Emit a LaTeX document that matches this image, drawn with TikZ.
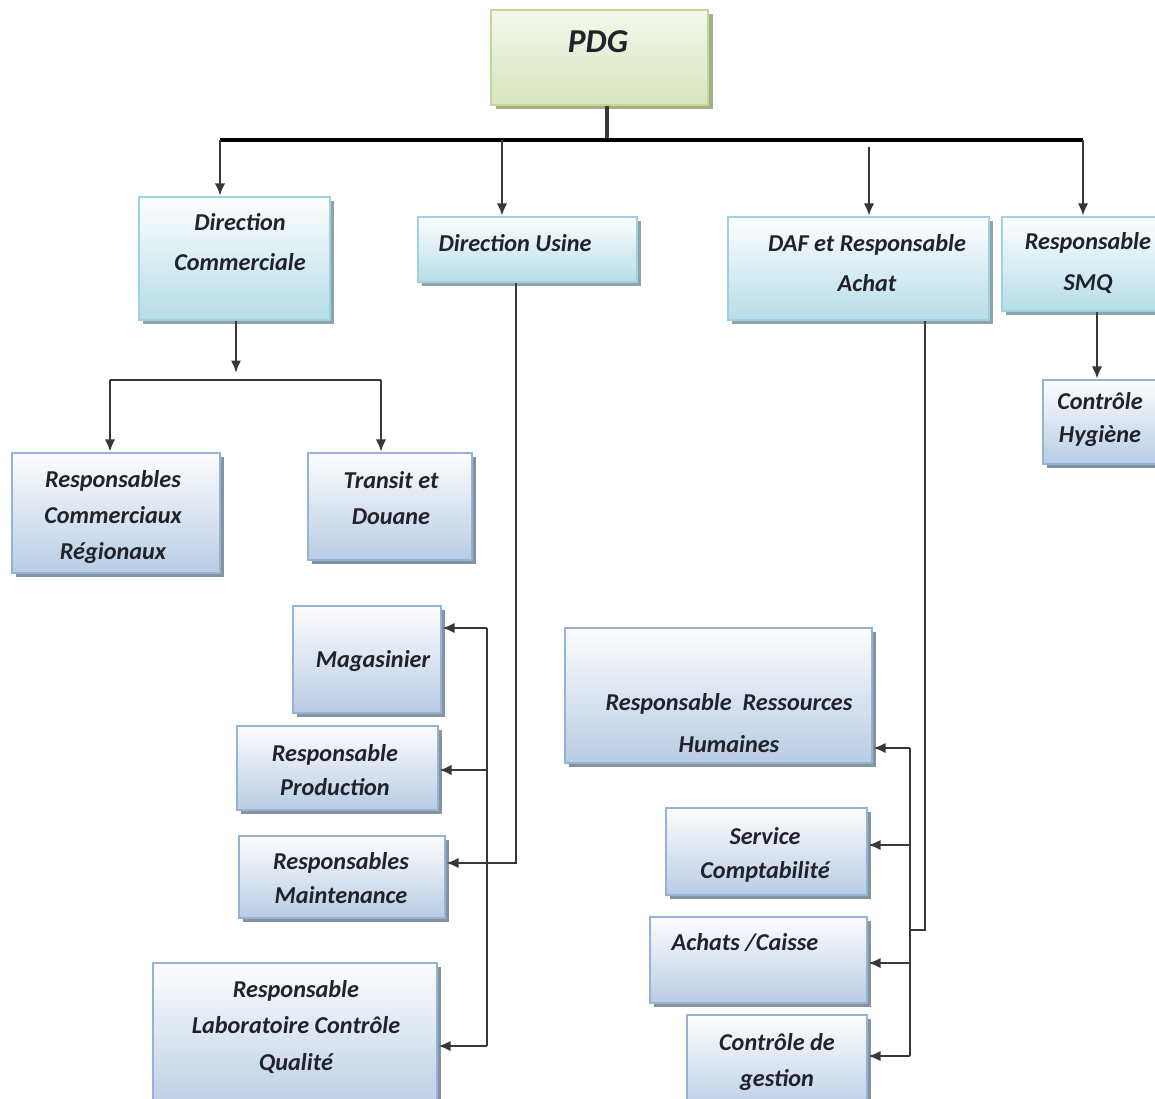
\documentclass[tikz,border=0pt]{standalone}
\usepackage{fontspec}
\setmainfont{Carlito}
\usetikzlibrary{arrows.meta,fit,shadows}
\definecolor{grtop}{HTML}{F4F8EC}
\definecolor{grbot}{HTML}{D7E4BD}
\definecolor{grbd}{HTML}{C3D69B}
\definecolor{grsh}{HTML}{A3B083}
\definecolor{cytop}{HTML}{FDFEFE}
\definecolor{cybot}{HTML}{B6DDE8}
\definecolor{cybd}{HTML}{9DD2E0}
\definecolor{cysh}{HTML}{8FA3A8}
\definecolor{bltop}{HTML}{FDFDFE}
\definecolor{blbot}{HTML}{B8CCE4}
\definecolor{blbd}{HTML}{95B3D7}
\definecolor{blsh}{HTML}{8592A0}
\definecolor{ink}{HTML}{22222C}
\definecolor{wirec}{HTML}{383838}
\tikzset{
  boxbase/.style={inner sep=0pt, line width=1.3pt},
  greenbox/.style={boxbase, draw=grbd, top color=grtop, bottom color=grbot,
    drop shadow={shadow xshift=0.09cm, shadow yshift=-0.09cm, fill=grsh, opacity=1}},
  cyanbox/.style={boxbase, draw=cybd, top color=cytop, bottom color=cybot,
    drop shadow={shadow xshift=0.08cm, shadow yshift=-0.08cm, fill=cysh, opacity=1}},
  bluebox/.style={boxbase, draw=blbd, top color=bltop, bottom color=blbot,
    drop shadow={shadow xshift=0.08cm, shadow yshift=-0.08cm, fill=blsh, opacity=1}},
  txt/.style={font=\fontsize{13.8}{20.5}\selectfont\bfseries\itshape, text=ink, align=center, inner sep=0pt},
  lsp/.style={font=\fontsize{13.8}{#1}\selectfont\bfseries\itshape},
  wire/.style={draw=wirec, line width=1.5pt},
  busline/.style={draw=black, line width=2.1pt},
  arr/.style={-{Latex[length=0.25cm,width=0.21cm]}}
}
\begin{document}
\begin{tikzpicture}[x=0.02cm,y=-0.02cm]
\clip (0,0) rectangle (1155,1098);
\fill[white] (0,0) rectangle (1155,1098);
% boxes
\node[greenbox, fit={(491,10)(708,105)}] (pdg) {};
\node[cyanbox, fit={(139,197)(330,320)}] (dc) {};
\node[cyanbox, fit={(418,217)(637,282)}] (du) {};
\node[cyanbox, fit={(728,217)(989,320)}] (daf) {};
\node[cyanbox, fit={(1002,217)(1175,311)}] (smq) {};
\node[bluebox, fit={(1043,380)(1175,464)}] (hyg) {};
\node[bluebox, fit={(12,453)(220,573)}] (rcr) {};
\node[bluebox, fit={(308,453)(472,560)}] (tra) {};
\node[bluebox, fit={(293,606)(441,713)}] (mag) {};
\node[bluebox, fit={(237,726)(438,810)}] (prod) {};
\node[bluebox, fit={(239,836)(445,918)}] (maint) {};
\node[bluebox, fit={(153,963)(437,1115)}] (labo) {};
\node[bluebox, fit={(565,628)(872,763)}] (rh) {};
\node[bluebox, fit={(666,808)(867,895)}] (compta) {};
\node[bluebox, fit={(650,917)(867,1003)}] (ach) {};
\node[bluebox, fit={(687,1015)(867,1115)}] (cdg) {};
% texts
\node[txt, font=\fontsize{19}{22}\selectfont\bfseries\itshape] (pdgt) at (598,42) {PDG};
\node[txt, lsp=22.8] (dct) at (240,242) {Direction\\Commerciale};
\node[txt] (dut) at (515,243) {Direction Usine};
\node[txt, lsp=22.8] (daft) at (867,263) {DAF et Responsable\\Achat};
\node[txt, lsp=22.8] (smqt) at (1088,263) {Responsable\\SMQ};
\node[txt, lsp=18.8] (hygt) at (1100,420) {Contrôle\\Hygiène};
\node[txt] (rcrt) at (113,517) {Responsables\\Commerciaux\\Régionaux};
\node[txt] (trat) at (391,498) {Transit et\\Douane};
\node[txt] (magt) at (373,661) {Magasinier};
\node[txt, lsp=19.4] (prodt) at (335,770) {Responsable\\Production};
\node[txt, lsp=19.4] (maintt) at (341,878) {Responsables\\Maintenance};
\node[txt] (labot) at (296,1027) {Responsable\\Laboratoire Contrôle\\Qualité};
\node[txt, lsp=23.9] (rht) at (729,723) {Responsable~~Ressources\\Humaines};
\node[txt, lsp=19.4] (comptat) at (765,855) {Service\\Comptabilité};
\node[txt] (acht) at (745,943) {Achats /Caisse};
\node[txt, lsp=20] (cdgt) at (777,1062) {Contrôle de\\gestion};
% top level connectors
\coordinate (j0) at (607,140);
\coordinate (b1) at (220,140);
\coordinate (b2) at (502,140);
\coordinate (b3) at (869,147);
\coordinate (b4) at (1083,140);
\draw[wire, line width=1.9pt] (pdg.south -| j0) -- (j0);
\draw[busline] (b1) -- (b4);
\draw[wire, arr] (b1) -- (b1 |- dc.north);
\draw[wire, arr] (b2) -- (b2 |- du.north);
\draw[wire, arr] (b3) -- (b3 |- daf.north);
\draw[wire, arr] (b4) -- (b4 |- smq.north);
% direction commerciale
\coordinate (dcx) at (236,373);
\coordinate (c1) at (110,380);
\coordinate (c2) at (381,380);
\draw[wire, arr] (dc.south -| dcx) -- (dcx);
\draw[wire] (c1) -- (c2);
\draw[wire, arr] (c1) -- (c1 |- rcr.north);
\draw[wire, arr] (c2) -- (c2 |- tra.north);
% direction usine
\coordinate (uj) at (516,863);
\coordinate (ub) at (487,863);
\coordinate (ut) at (487,628);
\coordinate (u2) at (487,770);
\coordinate (ubot) at (487,1046);
\draw[wire] (du.south -| uj) -- (uj) -- (ub);
\draw[wire] (ut) -- (ubot);
\draw[wire, arr] (ut) -- (ut -| mag.east);
\draw[wire, arr] (u2) -- (u2 -| prod.east);
\draw[wire, arr] (ub) -- (ub -| maint.east);
\draw[wire, arr] (ubot) -- (ubot -| labo.east);
% DAF
\coordinate (dj) at (925,930);
\coordinate (db) at (910,930);
\coordinate (dt) at (910,748);
\coordinate (d2) at (910,845);
\coordinate (d3) at (910,963);
\coordinate (dbot) at (910,1056);
\draw[wire] (daf.south -| dj) -- (dj) -- (db);
\draw[wire] (dt) -- (dbot);
\draw[wire, arr] (dt) -- (dt -| rh.east);
\draw[wire, arr] (d2) -- (d2 -| compta.east);
\draw[wire, arr] (d3) -- (d3 -| ach.east);
\draw[wire, arr] (dbot) -- (dbot -| cdg.east);
% SMQ
\coordinate (sx) at (1097,311);
\draw[wire, arr] (smq.south -| sx) -- (sx |- hyg.north);
\end{tikzpicture}
\end{document}
